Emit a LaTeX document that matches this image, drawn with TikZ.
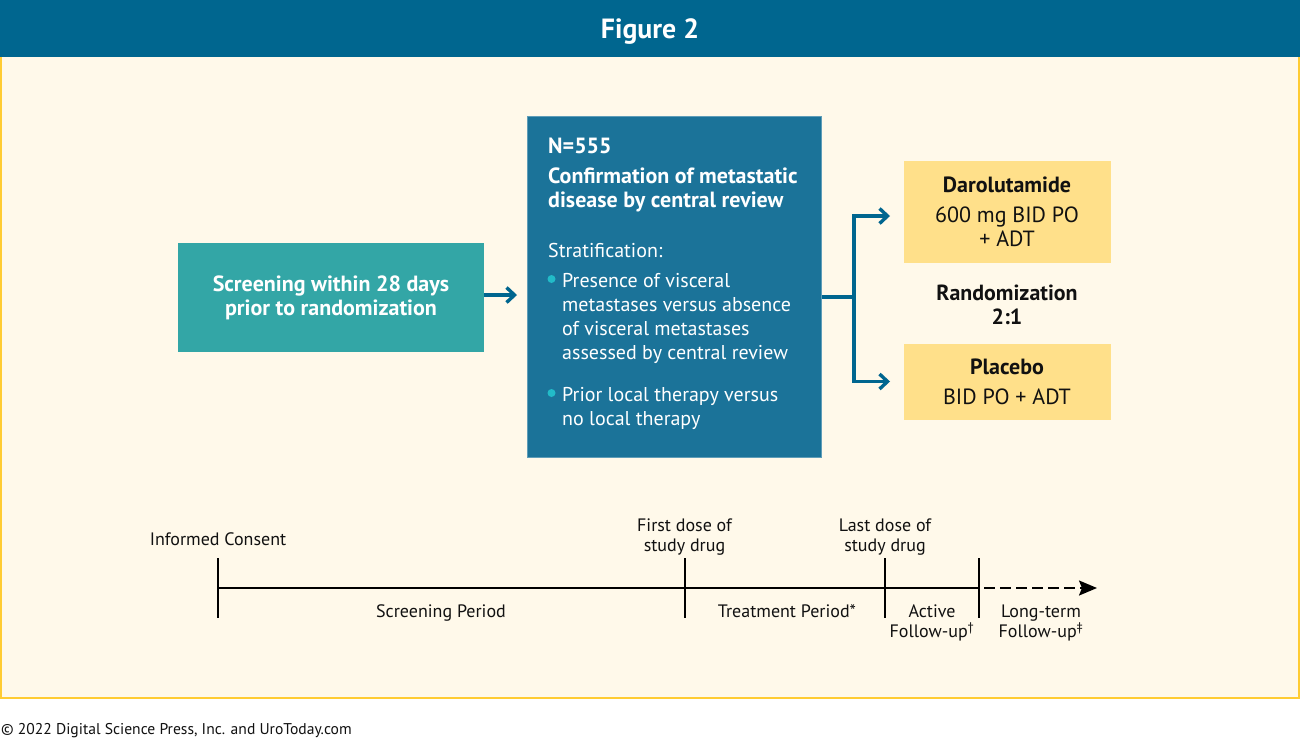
\documentclass[tikz,border=0pt]{standalone}
\usepackage{fontspec}
\setmainfont{PT Sans}
\usetikzlibrary{arrows.meta,positioning}
\definecolor{hdr}{HTML}{00668F}
\definecolor{bg}{HTML}{FFF9EA}
\definecolor{frameY}{HTML}{FFCC33}
\definecolor{teal}{HTML}{33A6A6}
\definecolor{blueb}{HTML}{1B7399}
\definecolor{arm}{HTML}{FFE08A}
\definecolor{dotc}{HTML}{22BBC8}
\definecolor{ink}{HTML}{111111}
\tikzset{
  x=1pt,y=-1pt,
  lbl/.style={inner sep=0pt,align=center,text=ink,font=\fontsize{18}{20}\selectfont},
  wtxt/.style={inner sep=0pt,align=left,anchor=west,text=white,font=\fontsize{20}{24}\selectfont},
  wbold/.style={wtxt,font=\fontsize{22}{24.5}\selectfont\bfseries},
  armbox/.style={fill=arm,inner sep=0pt},
  flow/.style={draw=hdr,line width=3.6pt,-{Straight Barb[length=8pt,width=15pt,line width=3.4pt]}},
  flowp/.style={draw=hdr,line width=3.6pt},
  tick/.style={draw=black,line width=2pt},
  bullet/.style={circle,fill=dotc,inner sep=0pt,minimum size=8pt},
}
\begin{document}
\begin{tikzpicture}
\useasboundingbox (0,0) rectangle (1300,740);
\fill[white] (0,0) rectangle (1300,740);
\node[fill=bg,draw=frameY,line width=2pt,inner sep=0pt,anchor=north west,outer sep=0pt,minimum width=1298pt,minimum height=644pt] (panel) at (1,54) {};
\node[fill=hdr,inner sep=0pt,anchor=north west,minimum width=1300pt,minimum height=56.5pt] (header) at (0,0) {};
\node[inner sep=0pt,text=white,font=\fontsize{27.8}{30}\selectfont\bfseries] (title) at (650,32) {Figure 2};

\node[fill=teal,inner sep=0pt,minimum width=306pt,minimum height=109pt,anchor=north west] (screen) at (178,243) {};
\node[inner sep=0pt,align=center,text=white,font=\fontsize{22}{24}\selectfont\bfseries] (screentxt) at (331,298) {Screening within 28 days\\prior to randomization};

\node[fill=blueb,draw=blueb!70!white,line width=.6pt,inner sep=0pt,outer sep=0pt,minimum width=294pt,minimum height=341.5pt,anchor=north west] (main) at (527.5,116) {};
\node[wbold] (n) at (548,146) {N=555};
\node[wbold,anchor=north west] (conf) at (548,167.5) {Confirmation of metastatic\\disease by central review};
\node[wtxt] (strat) at (548,250) {Stratification:};
\node[wtxt,anchor=north west] (b1) at (562,273) {Presence of visceral\\metastases versus absence\\of visceral metastases\\assessed by central review};
\node[wtxt,anchor=north west] (b2) at (562,387) {Prior local therapy versus\\no local therapy};
\node[bullet] (d1) at (551.5,279) {};
\node[bullet] (d2) at (551.5,393) {};

\node[armbox,minimum width=207pt,minimum height=102pt,anchor=north west] (dar) at (904,161) {};
\node[inner sep=0pt,font=\fontsize{22}{24}\selectfont\bfseries,text=ink] (dart) at (1007,185) {Darolutamide};
\node[inner sep=0pt,align=center,font=\fontsize{22}{24}\selectfont,text=ink] (dard) at (1007,227) {600 mg BID PO\\+ ADT};
\node[armbox,minimum width=207pt,minimum height=76pt,anchor=north west] (pla) at (904,344) {};
\node[inner sep=0pt,font=\fontsize{22}{24}\selectfont\bfseries,text=ink] (plat) at (1007,367) {Placebo};
\node[inner sep=0pt,font=\fontsize{22}{24}\selectfont,text=ink] (plad) at (1007,397) {BID PO + ADT};
\node[inner sep=0pt,align=center,font=\fontsize{21.9}{24}\selectfont\bfseries,text=ink] (rand) at (1007,305) {Randomization\\2:1};

\coordinate (sin) at (517,295);
\draw[flow] (screen.east |- sin) -- (sin);
\coordinate (junc) at (854,297);
\coordinate (u) at (890,216);
\coordinate (d) at (890,381.5);
\draw[flowp] (main.east |- junc) -- (junc);
\draw[flow] (junc) |- (u);
\draw[flow] (junc) |- (d);

% timeline
\coordinate (t0) at (218,588);
\coordinate (t3) at (978.5,588);
\coordinate (tend) at (1097,588);
\draw[tick] (t0) -- (t3);
\draw[tick] (218,558) -- (218,618);
\draw[tick] (684.5,558) -- (684.5,618);
\draw[tick] (885,558) -- (885,618);
\draw[tick] (978.5,558) -- (978.5,618);
\draw[line width=2pt,dash pattern=on 10.5pt off 5.5pt,-{Stealth[length=18pt,width=15pt,inset=3pt]}] (984,588) -- (tend);

\node[lbl] (ic) at (218,539) {Informed Consent};
\node[lbl] (fd) at (684.5,537) {First dose of\\study drug};
\node[lbl] (ld) at (885,537) {Last dose of\\study drug};
\node[lbl] (sp) at (441,613) {Screening Period};
\node[lbl] (tp) at (787,611) {Treatment Period*};
\node[lbl] (af) at (932,623) {Active\\Follow-up\textsuperscript{†}};
\node[lbl] (lf) at (1041,623) {Long-term\\Follow-up\textsuperscript{‡}};
\node[inner sep=0pt,anchor=west,text=ink,font=\fontsize{15.6}{20}\selectfont] (copy) at (1,731) {© 2022 Digital Science Press, Inc. and UroToday.com};
\end{tikzpicture}
\end{document}
